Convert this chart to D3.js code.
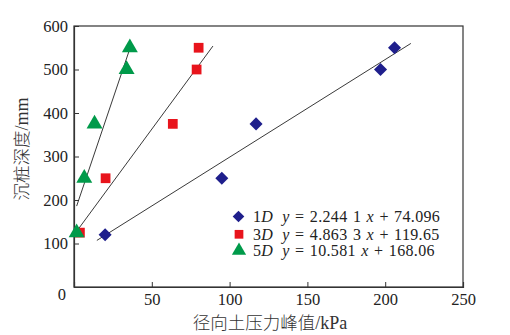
<!DOCTYPE html>
<html><head><meta charset="utf-8">
<script src="https://cdn.jsdelivr.net/npm/d3@7"></script>
<style>body{margin:0;background:#fff}</style>
</head><body>
<svg id="c" width="510" height="335"></svg>
<script>
// ---- data ----
const seriesNames = ["1D", "3D", "5D"];
const eqTexts = ["2.244 1", "4.863 3", "10.581"];
const eqIntercepts = ["74.096", "119.65", "168.06"];
const slopes = [2.2441, 4.8633, 10.581];
const intercepts = [74.096, 119.65, 168.06];
const fitRanges = [[14.7, 216.5], [1.3, 89.3], [1.7, 35.9]];
const pressure1D = [20, 95, 117, 197, 206];
const depth1D = [120, 250, 375, 500, 550];
const pressure3D = [3.8, 20.3, 63.5, 78.8, 80.1];
const depth3D = [125, 250, 375, 500, 550];
const pressure5D = [1.7, 6.6, 13.2, 33.8, 35.9];
const depth5D = [125, 250, 375, 500, 550];
const xTicks = [50, 100, 150, 200, 250];
const yTicks = [0, 100, 200, 300, 400, 500, 600];
const colors = ["#1f1f8c", "#e8141c", "#009a4a"];
const symbols = [d3.symbolSquare, d3.symbolSquare, d3.symbolTriangle];

const svg = d3.select("#c");
const L = 74, R = 463, T = 26, B = 287;
const x = d3.scaleLinear().domain([0, 250]).range([L, R]);
const y = d3.scaleLinear().domain([0, 600]).range([B, T]);
const serif = "'Liberation Serif','Times New Roman',serif";
const axisColor = "#333";

// frame
svg.append("rect").attr("x", L).attr("y", T).attr("width", R - L).attr("height", B - T)
  .attr("fill", "none").attr("stroke", axisColor).attr("stroke-width", 1.2);

// axes
const xa = svg.append("g").attr("transform", `translate(0,${B})`)
  .call(d3.axisBottom(x).tickValues(xTicks).tickSize(-5).tickPadding(6));
const ya = svg.append("g").attr("transform", `translate(${L},0)`)
  .call(d3.axisLeft(y).tickValues(yTicks).tickSize(-5).tickPadding(6));
[xa, ya].forEach(a => {
  a.select(".domain").attr("stroke", axisColor).attr("stroke-width", 1.2);
  a.selectAll(".tick line").attr("stroke", axisColor);
  a.selectAll("text").attr("font-family", serif).attr("font-size", 16.5).attr("fill", "#222");
});
ya.selectAll(".tick").filter(d => d === 0).select("text").attr("dy", "0.75em").attr("x", -8);

// fit lines
const allData = [[pressure1D, depth1D], [pressure3D, depth3D], [pressure5D, depth5D]];
fitRanges.forEach((r, i) => {
  svg.append("line")
    .attr("x1", x(r[0])).attr("y1", y(slopes[i] * r[0] + intercepts[i]))
    .attr("x2", x(r[1])).attr("y2", y(slopes[i] * r[1] + intercepts[i]))
    .attr("stroke", "#222").attr("stroke-width", 0.9);
});

// points
const sizes = [85, 95, 110];
const rot = i => (i === 0 ? " rotate(45)" : "");
allData.forEach((s, i) => {
  svg.append("g").selectAll("path").data(s[0].map((v, j) => [v, s[1][j]])).join("path")
    .attr("d", d3.symbol().type(symbols[i]).size(sizes[i]))
    .attr("transform", d => `translate(${x(d[0])},${y(d[1])})` + rot(i))
    .attr("fill", colors[i]);
});

// legend
const legY = [216.5, 234.3, 250.7];
const legBase = [222, 239.5, 256];
seriesNames.forEach((n, i) => {
  svg.append("path").attr("d", d3.symbol().type(symbols[i]).size(sizes[i] * 0.8))
    .attr("transform", `translate(${i === 0 ? 238.5 : 239},${legY[i]})` + rot(i)).attr("fill", colors[i]);
  const t = svg.append("text").attr("x", 253).attr("y", legBase[i])
    .attr("font-family", serif).attr("font-size", 16).attr("letter-spacing", 0.35)
    .attr("word-spacing", 1).attr("fill", "#222");
  t.append("tspan").text(n[0]);
  t.append("tspan").attr("font-style", "italic").text(n.slice(1));
  t.append("tspan").attr("font-style", "italic").attr("dx", 9).text("y");
  t.append("tspan").text(" = " + eqTexts[i] + " ");
  t.append("tspan").attr("font-style", "italic").text("x");
  t.append("tspan").text(" + " + eqIntercepts[i]);
});

// axis titles
const xt = svg.append("text").attr("x", 270).attr("y", 329).attr("text-anchor", "middle")
  .attr("font-size", 17.5).attr("fill", "#333");
xt.append("tspan").attr("font-family", "'Noto Sans CJK SC'").attr("font-weight", 300).text("径向土压力峰值");
xt.append("tspan").attr("font-family", serif).attr("font-size", 18).text("/kPa");
const yt = svg.append("text").attr("transform", "translate(28,149) rotate(-90)").attr("text-anchor", "middle")
  .attr("font-size", 17.5).attr("fill", "#333");
yt.append("tspan").attr("font-family", "'Noto Sans CJK SC'").attr("font-weight", 300).text("沉桩深度");
yt.append("tspan").attr("font-family", serif).attr("font-size", 18).text("/mm");
</script>
</body></html>
